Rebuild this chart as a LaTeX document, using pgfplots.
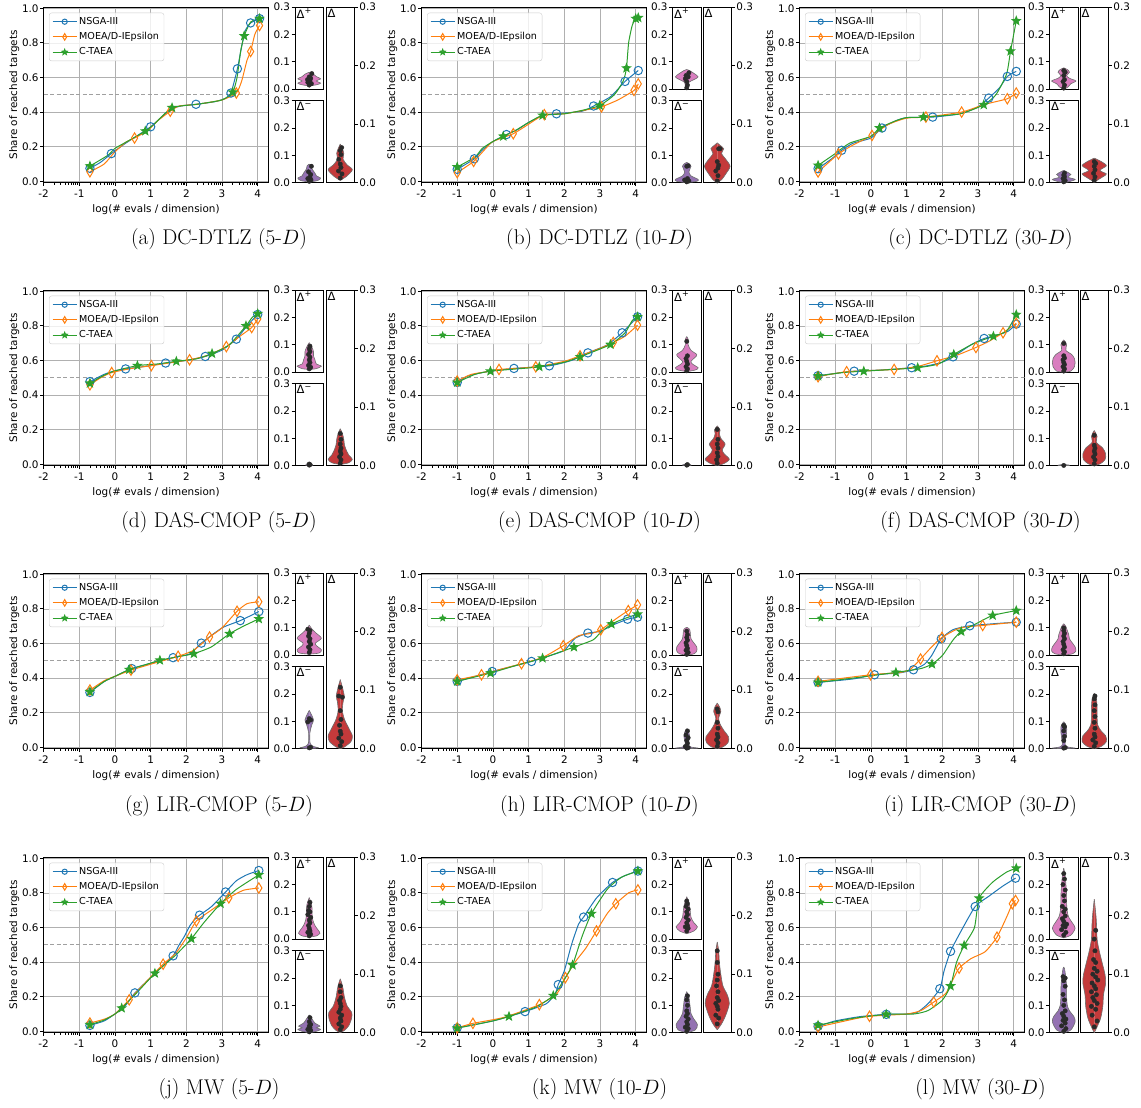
\documentclass[border=0pt]{standalone}
\usepackage{fontspec}
\usepackage{pgfplots}
\pgfplotsset{compat=1.18}
\newfontfamily\dejavu{DejaVu Sans}
\newcommand{\tf}{\dejavu\fontsize{10.4}{12.5}\selectfont}
\newcommand{\lf}{\dejavu\fontsize{9.6}{11.2}\selectfont}
\definecolor{cB}{HTML}{1F77B4}
\definecolor{cO}{HTML}{FF7F0E}
\definecolor{cG}{HTML}{2CA02C}
\definecolor{cP}{HTML}{D97EBF}
\definecolor{cV}{HTML}{9472B2}
\definecolor{cR}{HTML}{C43A3B}
\definecolor{gridc}{HTML}{B0B0B0}
\definecolor{dashc}{HTML}{A0A0A0}
\definecolor{legc}{HTML}{CCCCCC}
\definecolor{dotc}{HTML}{2A2A2A}
\definecolor{edgec}{HTML}{6E6E6E}

\pgfdeclareplotmark{thind}{%
  \pgfpathmoveto{\pgfqpoint{0pt}{\pgfplotmarksize}}%
  \pgfpathlineto{\pgfqpoint{0.6\pgfplotmarksize}{0pt}}%
  \pgfpathlineto{\pgfqpoint{0pt}{-\pgfplotmarksize}}%
  \pgfpathlineto{\pgfqpoint{-0.6\pgfplotmarksize}{0pt}}%
  \pgfpathclose\pgfusepathqstroke}
\pgfdeclareplotmark{fstar}{%
  \pgfpathmoveto{\pgfpointpolar{90}{\pgfplotmarksize}}%
  \pgfpathlineto{\pgfpointpolar{126}{0.42\pgfplotmarksize}}%
  \pgfpathlineto{\pgfpointpolar{162}{\pgfplotmarksize}}%
  \pgfpathlineto{\pgfpointpolar{198}{0.42\pgfplotmarksize}}%
  \pgfpathlineto{\pgfpointpolar{234}{\pgfplotmarksize}}%
  \pgfpathlineto{\pgfpointpolar{270}{0.42\pgfplotmarksize}}%
  \pgfpathlineto{\pgfpointpolar{306}{\pgfplotmarksize}}%
  \pgfpathlineto{\pgfpointpolar{342}{0.42\pgfplotmarksize}}%
  \pgfpathlineto{\pgfpointpolar{18}{\pgfplotmarksize}}%
  \pgfpathlineto{\pgfpointpolar{54}{0.42\pgfplotmarksize}}%
  \pgfpathclose\pgfusepathqfillstroke}

\tikzset{dlab/.style={anchor=north west, inner sep=1.5pt, font=\dejavu\fontsize{11.5}{13}\selectfont}}
\pgfplotsset{
 every axis/.append style={
  scale only axis,
  tick label style={font=\tf},
  label style={font=\tf},
  /pgf/number format/assume math mode=true,
  axis line style={line width=0.8pt},
  tick style={black, line width=0.8pt},
  minor tick style={black, line width=0.6pt},
  tick align=outside,
  major tick length=3.5pt,
  minor tick length=2pt,
  yticklabel style={inner xsep=1.2pt},
 },
 mainax/.style={
  width=225pt, height=175.5pt,
  xmin=-2, xmax=4.301, ymin=-0.008, ymax=1.006,
  xtick={-2,-1,0,1,2,3,4}, ytick={0,0.2,0.4,0.6,0.8,1.0},
  y tick label style={/pgf/number format/.cd,fixed,fixed zerofill,precision=1,/tikz/.cd},
  xtick pos=bottom, ytick pos=left,
  minor xtick={-1.699,-1.523,-1.398,-1.301,-1.222,-1.155,-1.097,-1.046,
   -0.699,-0.523,-0.398,-0.301,-0.222,-0.155,-0.097,-0.046,
   0.301,0.477,0.602,0.699,0.778,0.845,0.903,0.954,
   1.301,1.477,1.602,1.699,1.778,1.845,1.903,1.954,
   2.301,2.477,2.602,2.699,2.778,2.845,2.903,2.954,
   3.301,3.477,3.602,3.699,3.778,3.845,3.903,3.954},
  grid=major, major grid style={line width=0.6pt, color=gridc},
  xlabel={log(\# evals / dimension)},
  ylabel={Share of reached targets},
  ylabel style={yshift=-2pt},
  legend style={at={(0,1)}, anchor=north west, xshift=5.5pt, yshift=-5.5pt,
    font=\lf, nodes={font=\lf}, draw=legc, rounded corners=2.5pt, fill=white, fill opacity=0.8,
    text opacity=1, inner xsep=3pt, inner ysep=2.5pt, row sep=2.5pt},
  legend cell align=left,
  legend image code/.code={\draw[mark repeat=2,mark phase=2] plot coordinates {(0pt,0pt) (12pt,0pt) (24pt,0pt)};},
 },
 mB/.style={mark=o, mark size=4.2pt},
 mO/.style={mark=thind, mark size=5.2pt},
 mG/.style={mark=fstar, mark size=4.2pt, mark options={fill=cG}},
 lB/.style={mark=o, mark size=2.6pt},
 lO/.style={mark=thind, mark size=3.3pt},
 lG/.style={mark=fstar, mark size=2.8pt, mark options={fill=cG}},
 vax/.style={width=28.5pt, height=82pt, xmin=-1, xmax=1, ymin=0, ymax=0.3,
  xtick=\empty, ytick={0,0.1,0.2,0.3}, ytick pos=left,
  y tick label style={/pgf/number format/.cd,fixed,fixed zerofill,precision=1,/tikz/.cd},
  axis line style={line width=1pt}},
 vaxD/.style={vax, height=175.5pt, ytick pos=right, yticklabel pos=right},
 vedge/.style={edgec, line width=0.6pt, smooth, tension=0.5, forget plot},
}

\newcommand{\legs}{%
 \addlegendimage{cB, line width=1pt, lB}\addlegendentry{\lf NSGA-III}
 \addlegendimage{cO, line width=1pt, lO}\addlegendentry{\lf MOEA/D-IEpsilon}
 \addlegendimage{cG, line width=1pt, lG}\addlegendentry{\lf C-TAEA}}
\newcommand{\half}{\addplot[dashc, line width=1pt, dash pattern=on 4pt off 2.5pt, forget plot] coordinates {(-2,0.5) (4.301,0.5)};}
\newcommand{\ser}[4]{%
 \addplot[#1, line width=1pt, smooth, tension=0.35, forget plot] coordinates {#3};
 \addplot[#1, line width=1pt, only marks, #2, forget plot] coordinates {#4};}
\newcommand{\violin}[2]{%
 \addplot[fill=#1, draw=none, smooth, tension=0.5, forget plot] coordinates {#2};
 \addplot[fill=#1, draw=none, smooth, tension=0.5, forget plot, x filter/.code={\pgfmathparse{-1*\pgfmathresult}}] coordinates {#2};
 \addplot[vedge] coordinates {#2};
 \addplot[vedge, x filter/.code={\pgfmathparse{-1*\pgfmathresult}}] coordinates {#2};}
\newcommand{\dts}[1]{\addplot[only marks, mark=*, mark size=2.2pt, color=dotc, mark options={fill=dotc, draw=dotc}, forget plot] coordinates {#1};}
\newcommand{\vpanel}[9]{%
 \begin{axis}[vax, at={(#1pt,#3pt+93.5pt)}]
  \violin{cP}{#4}\dts{#5}
  \node[dlab] at (rel axis cs:0,1) {Δ\textsuperscript{+}};
 \end{axis}
 \begin{axis}[vax, at={(#1pt,#3pt)}]
  \violin{cV}{#6}\dts{#7}
  \node[dlab] at (rel axis cs:0,1) {Δ\textsuperscript{−}};
 \end{axis}
 \begin{axis}[vaxD, at={(#2pt,#3pt)}]
  \violin{cR}{#8}\dts{#9}
  \node[dlab] at (rel axis cs:0,1) {Δ};
 \end{axis}}
\newcommand{\pcap}[3]{\node[anchor=base, font=\fontsize{21.3}{24}\selectfont] at (#1pt,#2pt) {#3};}

\begin{document}
\begin{tikzpicture}
\useasboundingbox (0,0) rectangle (1141pt,1108pt);

% ================= (a) DC-DTLZ 5-D
\begin{axis}[mainax, at={(43.5pt,925.3pt)}]
\half\legs
\ser{cB}{mB}{(-0.7,0.075) (-0.4,0.11) (-0.1,0.16) (0.3,0.22) (0.6,0.26) (1.0,0.315) (1.3,0.37) (1.6,0.42) (1.9,0.437) (2.27,0.445) (2.8,0.46) (3.1,0.48) (3.25,0.51) (3.43,0.65) (3.55,0.78) (3.65,0.87) (3.8,0.915) (4.05,0.94)}{(-0.7,0.075) (-0.1,0.16) (1.0,0.315) (2.27,0.445) (3.25,0.51) (3.43,0.65) (3.8,0.915) (4.05,0.94)}
\ser{cO}{mO}{(-0.7,0.055) (-0.3,0.1) (0.0,0.17) (0.3,0.225) (0.55,0.25) (0.9,0.29) (1.2,0.35) (1.55,0.405) (1.8,0.435) (2.3,0.445) (3.0,0.47) (3.4,0.51) (3.55,0.58) (3.7,0.7) (3.8,0.75) (3.92,0.85) (4.05,0.9)}{(-0.7,0.055) (0.55,0.25) (1.55,0.405) (3.4,0.51) (3.8,0.75) (4.05,0.9)}
\ser{cG}{mG}{(-0.7,0.088) (-0.2,0.15) (0.0,0.19) (0.3,0.225) (0.85,0.29) (1.1,0.33) (1.6,0.425) (2.3,0.445) (3.0,0.47) (3.3,0.515) (3.42,0.6) (3.52,0.75) (3.62,0.84) (3.8,0.92) (4.05,0.94)}{(-0.7,0.088) (0.85,0.29) (1.6,0.425) (3.3,0.515) (3.62,0.84) (4.05,0.94)}
\end{axis}
\vpanel{295}{326}{925.3}
{(0,0.012) (0.5,0.016) (0.8,0.022) (0.5,0.03) (0.8,0.038) (0.5,0.046) (0.3,0.055) (0,0.062)}
{(0,0.015) (0.15,0.02) (-0.1,0.025) (0.05,0.03) (-0.12,0.035) (0.1,0.04) (0,0.045) (0.18,0.057)}
{(0,0.002) (0.6,0.008) (0.8,0.017) (0.5,0.025) (0.4,0.035) (0.2,0.05) (0.15,0.062) (0,0.068)}
{(0,0.005) (0.12,0.01) (-0.1,0.015) (0.05,0.02) (0.1,0.03) (-0.05,0.04) (0.15,0.06)}
{(0,0.004) (0.4,0.01) (0.85,0.022) (0.5,0.03) (0.2,0.04) (0.25,0.05) (0.15,0.058) (0,0.066)}
{(0,0.008) (0.12,0.015) (-0.12,0.02) (0.05,0.026) (0,0.032) (-0.1,0.04) (0.05,0.048) (0,0.055) (0.1,0.06)}
\pcap{219}{863.5}{(a) DC-DTLZ (5-$D$)}

% ================= (b) DC-DTLZ 10-D
\begin{axis}[mainax, at={(421.5pt,925.3pt)}]
\half\legs
\ser{cB}{mB}{(-1,0.069) (-0.52,0.13) (-0.3,0.18) (0,0.23) (0.38,0.27) (0.7,0.3) (1.0,0.34) (1.4,0.38) (1.78,0.39) (2.5,0.405) (2.82,0.435) (3.3,0.49) (3.7,0.577) (4.07,0.64)}{(-1,0.069) (-0.52,0.13) (0.38,0.27) (1.78,0.39) (2.82,0.435) (3.7,0.577) (4.07,0.64)}
\ser{cO}{mO}{(-1,0.05) (-0.54,0.115) (-0.2,0.19) (0,0.23) (0.57,0.275) (1.0,0.33) (1.44,0.385) (2,0.39) (2.8,0.42) (3.04,0.43) (3.5,0.47) (3.95,0.525) (4.07,0.563)}{(-1,0.05) (-0.54,0.115) (0.57,0.275) (1.44,0.385) (3.04,0.43) (3.95,0.525) (4.07,0.563)}
\ser{cG}{mG}{(-1,0.083) (-0.5,0.14) (-0.3,0.19) (0,0.23) (0.29,0.26) (0.6,0.29) (1.0,0.34) (1.39,0.381) (2,0.39) (2.5,0.41) (2.99,0.438) (3.4,0.5) (3.65,0.58) (3.74,0.654) (3.8,0.8) (3.9,0.9) (4.0,0.94) (4.07,0.945)}{(-1,0.083) (0.29,0.26) (1.39,0.381) (2.99,0.438) (3.74,0.654) (4.0,0.94) (4.07,0.945)}
\end{axis}
\vpanel{672.5}{703}{925.3}
{(0,0.003) (0.1,0.01) (0.15,0.025) (0.5,0.035) (0.8,0.045) (0.5,0.058) (0.2,0.068) (0,0.072)}
{(0,0.005) (0.05,0.015) (0,0.028) (-0.1,0.038) (0.1,0.045) (-0.05,0.05) (0.15,0.06)}
{(0,0.0) (0.7,0.005) (0.8,0.012) (0.3,0.025) (0.15,0.04) (0.3,0.06) (0.15,0.07) (0,0.074)}
{(0,0.003) (0.15,0.006) (-0.15,0.01) (0.05,0.015) (0,0.06) (0.1,0.062)}
{(0,0.0) (0.3,0.005) (0.6,0.015) (0.9,0.028) (0.6,0.04) (0.3,0.05) (0.45,0.058) (0.2,0.064) (0,0.068)}
{(0,0.003) (0.05,0.012) (-0.1,0.02) (0.05,0.025) (0.1,0.03) (0,0.036) (0.1,0.058) (0.2,0.058)}
\pcap{599.5}{863.5}{(b) DC-DTLZ (10-$D$)}

% ================= (c) DC-DTLZ 30-D
\begin{axis}[mainax, at={(799.5pt,925.3pt)}]
\half\legs
\ser{cB}{mB}{(-1.48,0.073) (-1.1,0.13) (-0.82,0.179) (-0.5,0.22) (0,0.25) (0.31,0.308) (0.7,0.35) (1.0,0.368) (1.73,0.371) (2.5,0.39) (3.0,0.43) (3.3,0.481) (3.6,0.54) (3.82,0.606) (4.07,0.635)}{(-1.48,0.073) (-0.82,0.179) (0.31,0.308) (1.73,0.371) (3.3,0.481) (3.82,0.606) (4.07,0.635)}
\ser{cO}{mO}{(-1.48,0.054) (-0.91,0.158) (-0.5,0.21) (0.03,0.265) (0.5,0.33) (1,0.365) (1.54,0.371) (2.54,0.4) (3.2,0.445) (3.82,0.477) (4.07,0.51)}{(-1.48,0.054) (-0.91,0.158) (0.03,0.265) (1.54,0.371) (2.54,0.4) (3.82,0.477) (4.07,0.51)}
\ser{cG}{mG}{(-1.48,0.092) (-1,0.16) (-0.6,0.22) (0,0.26) (0.24,0.308) (0.7,0.35) (1.0,0.368) (1.47,0.371) (2.5,0.39) (3.16,0.442) (3.5,0.5) (3.8,0.62) (3.91,0.752) (4.07,0.927)}{(-1.48,0.092) (0.24,0.308) (1.47,0.371) (3.16,0.442) (3.91,0.752) (4.07,0.927)}
\end{axis}
\vpanel{1049.5}{1080}{925.3}
{(0,0.0) (0.3,0.008) (0.5,0.02) (0.85,0.03) (0.4,0.04) (0.2,0.05) (0.4,0.062) (0.25,0.072) (0,0.078)}
{(0,0.004) (0.05,0.015) (-0.05,0.028) (0.05,0.035) (0,0.05) (0.1,0.062) (0,0.068)}
{(0,0.0) (0.4,0.004) (0.8,0.012) (0.3,0.02) (0.5,0.03) (0.2,0.04) (0,0.045)}
{(0,0.003) (0.1,0.008) (-0.05,0.015) (0.05,0.022) (0,0.028) (0.05,0.035)}
{(0,0.0) (0.2,0.004) (0.6,0.01) (0.85,0.015) (0.4,0.021) (0.85,0.029) (0.5,0.036) (0,0.042)}
{(0,0.004) (0.05,0.01) (-0.05,0.016) (0.05,0.022) (0,0.028) (0.1,0.033) (0,0.036)}
\pcap{980.5}{863.5}{(c) DC-DTLZ (30-$D$)}

% ================= (d) DAS-CMOP 5-D
\begin{axis}[mainax, at={(43.5pt,642.3pt)}]
\half\legs
\ser{cB}{mB}{(-0.7,0.478) (-0.3,0.52) (0,0.54) (0.3,0.551) (1,0.57) (1.42,0.585) (2,0.6) (2.53,0.623) (3.0,0.66) (3.4,0.723) (3.7,0.8) (4.0,0.866)}{(-0.7,0.478) (0.3,0.551) (1.42,0.585) (2.53,0.623) (3.4,0.723) (4.0,0.866)}
\ser{cO}{mO}{(-0.7,0.459) (-0.4,0.5) (-0.09,0.53) (0.5,0.555) (1.02,0.57) (2.09,0.604) (2.6,0.63) (3.12,0.68) (3.5,0.74) (3.83,0.79) (4.0,0.84)}{(-0.7,0.459) (-0.09,0.53) (1.02,0.57) (2.09,0.604) (3.12,0.68) (3.83,0.79) (4.0,0.84)}
\ser{cG}{mG}{(-0.7,0.468) (-0.3,0.515) (0,0.54) (0.63,0.57) (1.2,0.58) (1.72,0.595) (2.3,0.61) (2.72,0.64) (3.2,0.69) (3.67,0.8) (3.85,0.85) (4.0,0.87)}{(-0.7,0.468) (0.63,0.57) (1.72,0.595) (2.72,0.64) (3.67,0.8) (4.0,0.87)}
\end{axis}
\vpanel{295}{326}{642.3}
{(0,0.01) (0.5,0.013) (0.85,0.022) (0.5,0.03) (0.4,0.045) (0.3,0.06) (0.3,0.075) (0.2,0.09) (0.1,0.1) (0,0.108)}
{(0,0.012) (0.1,0.018) (-0.05,0.025) (0.05,0.035) (0,0.045) (0.05,0.055) (-0.05,0.065) (0.05,0.075) (0,0.085) (0.05,0.095)}
{(0,0.0) (0.25,0.002) (0.2,0.006) (0,0.009)}
{(0,0.002) (0.05,0.004) (0,0.006)}
{(0,0.002) (0.6,0.005) (0.85,0.011) (0.6,0.018) (0.45,0.025) (0.3,0.035) (0.25,0.045) (0.15,0.055) (0,0.063)}
{(0,0.004) (0.05,0.01) (-0.05,0.015) (0.05,0.02) (0,0.025) (0.05,0.03) (0,0.037) (0.05,0.045) (0,0.055)}
\pcap{219}{580.2}{(d) DAS-CMOP (5-$D$)}

% ================= (e) DAS-CMOP 10-D
\begin{axis}[mainax, at={(421.5pt,642.3pt)}]
\half\legs
\ser{cB}{mB}{(-1,0.473) (-0.7,0.51) (-0.3,0.53) (0,0.54) (0.59,0.554) (1.58,0.569) (2.2,0.6) (2.66,0.644) (3.2,0.69) (3.62,0.76) (3.9,0.82) (4.05,0.852)}{(-1,0.473) (0.59,0.554) (1.58,0.569) (2.66,0.644) (3.62,0.76) (4.05,0.852)}
\ser{cO}{mO}{(-1,0.481) (-0.6,0.52) (0,0.54) (0.17,0.548) (1.2,0.563) (2,0.595) (2.44,0.627) (3.0,0.67) (3.37,0.704) (3.7,0.74) (4.05,0.804)}{(-1,0.481) (0.17,0.548) (1.2,0.563) (2.44,0.627) (3.37,0.704) (4.05,0.804)}
\ser{cG}{mG}{(-1,0.473) (-0.5,0.52) (-0.07,0.538) (0.6,0.55) (1.3,0.563) (2,0.59) (2.44,0.621) (3.29,0.692) (3.7,0.76) (3.9,0.83) (4.05,0.852)}{(-1,0.473) (-0.07,0.538) (1.3,0.563) (2.44,0.621) (3.29,0.692) (4.05,0.852)}
\end{axis}
\vpanel{672.5}{703}{642.3}
{(0,0.002) (0.6,0.008) (0.8,0.016) (0.4,0.03) (0.3,0.04) (0.6,0.055) (0.7,0.065) (0.3,0.08) (0.1,0.1) (0.1,0.12) (0,0.13)}
{(0,0.005) (0.05,0.012) (-0.05,0.02) (0.05,0.03) (0,0.04) (-0.05,0.05) (0.05,0.06) (0,0.113)}
{(0,0.0) (0.3,0.002) (0.2,0.005) (0,0.007)}
{(0,0.002) (0.05,0.004)}
{(0,0.0) (0.5,0.004) (0.85,0.011) (0.5,0.02) (0.35,0.027) (0.55,0.037) (0.25,0.047) (0.15,0.055) (0.2,0.061) (0,0.068)}
{(0,0.004) (-0.05,0.01) (0.05,0.016) (0,0.022) (0.05,0.03) (0,0.037) (0.05,0.045) (0,0.062)}
\pcap{599.5}{580.2}{(e) DAS-CMOP (10-$D$)}

% ================= (f) DAS-CMOP 30-D
\begin{axis}[mainax, at={(799.5pt,642.3pt)}]
\half\legs
\ser{cB}{mB}{(-1.48,0.512) (-1,0.525) (-0.47,0.538) (0.3,0.545) (1.14,0.558) (1.6,0.57) (2,0.59) (2.3,0.621) (2.8,0.69) (3.17,0.727) (3.6,0.75) (3.85,0.77) (4.07,0.81)}{(-1.48,0.512) (-0.47,0.538) (1.14,0.558) (2.3,0.621) (3.17,0.727) (4.07,0.81)}
\ser{cO}{mO}{(-1.48,0.506) (-0.68,0.535) (0.65,0.548) (1.3,0.565) (1.85,0.598) (2.4,0.63) (2.94,0.675) (3.3,0.71) (3.7,0.76) (4.07,0.815)}{(-1.48,0.506) (-0.68,0.535) (0.65,0.548) (1.85,0.598) (2.94,0.675) (3.7,0.76) (4.07,0.815)}
\ser{cG}{mG}{(-1.48,0.51) (-0.8,0.53) (-0.2,0.538) (0.6,0.548) (1.31,0.558) (1.9,0.58) (2.32,0.635) (2.9,0.7) (3.43,0.74) (3.8,0.77) (4.07,0.865)}{(-1.48,0.51) (-0.2,0.538) (1.31,0.558) (2.32,0.635) (3.43,0.74) (4.07,0.865)}
\end{axis}
\vpanel{1049.5}{1080}{642.3}
{(0,0.0) (0.5,0.004) (0.75,0.02) (0.8,0.035) (0.75,0.05) (0.55,0.065) (0.15,0.08) (0.2,0.1) (0.1,0.112) (0,0.118)}
{(0,0.004) (0.05,0.012) (-0.05,0.02) (0.05,0.028) (0,0.035) (-0.05,0.045) (0.05,0.052) (0,0.06) (0,0.105)}
{(0,0.0) (0.4,0.001) (0.3,0.003) (0,0.004)}
{(0,0.001)}
{(0,0.0) (0.4,0.003) (0.75,0.01) (0.8,0.02) (0.6,0.03) (0.15,0.04) (0.2,0.05) (0.1,0.056) (0,0.06)}
{(0,0.003) (0.05,0.01) (-0.05,0.015) (0.05,0.02) (0,0.025) (0.05,0.03) (0,0.035) (0,0.052)}
\pcap{980.5}{580.2}{(f) DAS-CMOP (30-$D$)}

% ================= (g) LIR-CMOP 5-D
\begin{axis}[mainax, at={(43.5pt,359.3pt)}]
\half\legs
\ser{cB}{mB}{(-0.7,0.317) (-0.3,0.38) (0,0.41) (0.47,0.455) (1.0,0.485) (1.63,0.518) (2.1,0.54) (2.42,0.602) (3.0,0.69) (3.51,0.732) (4.03,0.784)}{(-0.7,0.317) (0.47,0.455) (1.63,0.518) (2.42,0.602) (3.51,0.732) (4.03,0.784)}
\ser{cO}{mO}{(-0.7,0.331) (-0.3,0.385) (0,0.41) (0.45,0.446) (1.0,0.48) (1.77,0.526) (2.2,0.56) (2.65,0.637) (3.0,0.69) (3.42,0.786) (3.7,0.83) (4.03,0.841)}{(-0.7,0.331) (0.45,0.446) (1.77,0.526) (2.65,0.637) (3.42,0.786) (4.03,0.841)}
\ser{cG}{mG}{(-0.7,0.321) (-0.3,0.38) (0,0.41) (0.4,0.449) (0.9,0.48) (1.26,0.503) (1.8,0.525) (2.21,0.541) (2.7,0.58) (3.21,0.656) (3.6,0.7) (4.03,0.742)}{(-0.7,0.321) (0.4,0.449) (1.26,0.503) (2.21,0.541) (3.21,0.656) (4.03,0.742)}
\end{axis}
\vpanel{295}{326}{359.3}
{(0,0.004) (0.7,0.008) (0.85,0.02) (0.5,0.035) (0.45,0.045) (0.85,0.062) (0.5,0.08) (0.2,0.095) (0,0.11)}
{(0,0.01) (0.05,0.02) (-0.05,0.03) (0.1,0.04) (0,0.05) (0.05,0.06) (-0.05,0.07) (0,0.08) (0.05,0.09) (-0.1,0.095)}
{(0,0.0) (0.65,0.003) (0.3,0.008) (0.06,0.02) (0.05,0.06) (0.2,0.09) (0.3,0.105) (0.15,0.125) (0,0.14)}
{(0,0.003) (0.1,0.005) (-0.1,0.098) (0.1,0.105) (0,0.11)}
{(0,0.0) (0.3,0.003) (0.75,0.012) (0.85,0.022) (0.6,0.035) (0.3,0.05) (0.15,0.065) (0.2,0.08) (0.28,0.09) (0.15,0.105) (0,0.118)}
{(0,0.005) (0.1,0.012) (-0.1,0.018) (0.05,0.025) (0,0.03) (-0.05,0.04) (0.05,0.05) (0,0.065) (0.15,0.088) (-0.1,0.09) (0,0.105)}
\pcap{219}{296.9}{(g) LIR-CMOP (5-$D$)}

% ================= (h) LIR-CMOP 10-D
\begin{axis}[mainax, at={(421.5pt,359.3pt)}]
\half\legs
\ser{cB}{mB}{(-1,0.381) (-0.5,0.41) (-0.02,0.438) (0.5,0.465) (1.08,0.496) (1.6,0.53) (2.0,0.56) (2.3,0.63) (2.66,0.66) (3.0,0.67) (3.4,0.71) (3.77,0.74) (4.05,0.752)}{(-1,0.381) (-0.02,0.438) (1.08,0.496) (2.66,0.66) (3.77,0.74) (4.05,0.752)}
\ser{cO}{mO}{(-1,0.39) (-0.32,0.419) (0.2,0.45) (0.8,0.483) (1.4,0.52) (1.97,0.587) (2.4,0.645) (2.8,0.66) (3.02,0.679) (3.5,0.75) (3.79,0.79) (4.05,0.823)}{(-1,0.39) (-0.32,0.419) (0.8,0.483) (1.97,0.587) (3.02,0.679) (3.79,0.79) (4.05,0.823)}
\ser{cG}{mG}{(-1,0.381) (-0.07,0.429) (0.6,0.47) (1.39,0.515) (1.8,0.545) (2.27,0.579) (2.8,0.62) (3.0,0.66) (3.32,0.712) (3.7,0.745) (4.05,0.769)}{(-1,0.381) (-0.07,0.429) (1.39,0.515) (2.27,0.579) (3.32,0.712) (4.05,0.769)}
\end{axis}
\vpanel{672.5}{703}{359.3}
{(0,0.0) (0.5,0.005) (0.7,0.015) (0.7,0.03) (0.5,0.045) (0.3,0.06) (0.25,0.08) (0.2,0.095) (0,0.102)}
{(0,0.003) (0.1,0.01) (-0.05,0.018) (0.05,0.025) (0,0.035) (-0.05,0.045) (0.05,0.055) (0,0.065) (0.05,0.075) (0,0.088)}
{(0,0.0) (0.8,0.002) (0.3,0.006) (0.1,0.015) (0.15,0.03) (0.2,0.045) (0.15,0.06) (0,0.073)}
{(0,0.002) (0.1,0.004) (-0.1,0.008) (0.05,0.02) (0,0.03) (0.1,0.04) (-0.05,0.05) (0.05,0.065)}
{(0,0.0) (0.4,0.003) (0.75,0.01) (0.8,0.02) (0.5,0.03) (0.2,0.042) (0.1,0.052) (0.25,0.064) (0.15,0.072) (0,0.078)}
{(0,0.004) (0.05,0.01) (-0.05,0.015) (0.05,0.02) (0,0.025) (0.05,0.035) (0,0.045) (0.05,0.063) (0,0.068)}
\pcap{599.5}{296.9}{(h) LIR-CMOP (10-$D$)}

% ================= (i) LIR-CMOP 30-D
\begin{axis}[mainax, at={(799.5pt,359.3pt)}]
\half\legs
\ser{cB}{mB}{(-1.48,0.375) (-0.5,0.395) (0.1,0.419) (0.8,0.43) (1.19,0.448) (1.5,0.48) (1.7,0.53) (1.97,0.627) (2.3,0.68) (2.77,0.702) (3.5,0.715) (4.07,0.723)}{(-1.48,0.375) (0.1,0.419) (1.19,0.448) (1.97,0.627) (2.77,0.702) (4.07,0.723)}
\ser{cO}{mO}{(-1.48,0.381) (-0.01,0.419) (0.8,0.432) (1.1,0.45) (1.39,0.51) (1.7,0.58) (1.99,0.635) (2.5,0.69) (3.13,0.704) (4.07,0.723)}{(-1.48,0.381) (-0.01,0.419) (1.39,0.51) (1.99,0.635) (3.13,0.704) (4.07,0.723)}
\ser{cG}{mG}{(-1.48,0.375) (-0.3,0.405) (0.7,0.433) (1.4,0.455) (1.71,0.481) (2.0,0.53) (2.3,0.62) (2.53,0.669) (3.0,0.72) (3.41,0.762) (4.07,0.79)}{(-1.48,0.375) (0.7,0.433) (1.71,0.481) (2.53,0.669) (3.41,0.762) (4.07,0.79)}
\end{axis}
\vpanel{1049.5}{1080}{359.3}
{(0,0.0) (0.6,0.005) (0.85,0.015) (0.8,0.03) (0.6,0.045) (0.4,0.06) (0.35,0.075) (0.25,0.09) (0.15,0.105) (0,0.115)}
{(0,0.005) (0.05,0.012) (-0.05,0.02) (0.05,0.03) (0,0.04) (-0.05,0.05) (0.05,0.06) (0,0.07) (0.05,0.08) (0,0.09) (0,0.1)}
{(0,0.0) (0.8,0.002) (0.3,0.006) (0.1,0.015) (0.15,0.04) (0.2,0.06) (0.2,0.08) (0.1,0.092) (0,0.098)}
{(0,0.002) (0.1,0.004) (0,0.03) (0.05,0.045) (0,0.065) (0.05,0.08) (0,0.085)}
{(0,0.0) (0.5,0.004) (0.85,0.012) (0.8,0.022) (0.5,0.03) (0.25,0.04) (0.2,0.055) (0.2,0.07) (0.15,0.085) (0,0.095)}
{(0,0.004) (0.1,0.01) (-0.1,0.015) (0.05,0.02) (0,0.025) (0.05,0.035) (0,0.045) (0.05,0.055) (0,0.065) (0.05,0.075) (0,0.085) (0.05,0.09)}
\pcap{980.5}{296.9}{(i) LIR-CMOP (30-$D$)}

% ================= (j) MW 5-D
\begin{axis}[mainax, at={(43.5pt,75.3pt)}]
\half\legs
\ser{cB}{mB}{(-0.7,0.034) (-0.3,0.06) (0,0.1) (0.3,0.15) (0.56,0.222) (1.0,0.31) (1.3,0.37) (1.63,0.436) (1.8,0.5) (1.95,0.55) (2.1,0.61) (2.25,0.65) (2.37,0.671) (2.7,0.72) (3.1,0.805) (3.4,0.87) (3.7,0.905) (4.03,0.929)}{(-0.7,0.034) (0.56,0.222) (1.63,0.436) (2.37,0.671) (3.1,0.805) (4.03,0.929)}
\ser{cO}{mO}{(-0.7,0.048) (-0.3,0.07) (0,0.1) (0.4,0.182) (0.8,0.27) (1.35,0.388) (1.7,0.45) (2.0,0.54) (2.28,0.637) (2.7,0.7) (3.19,0.771) (3.6,0.815) (4.03,0.828)}{(-0.7,0.048) (0.4,0.182) (1.35,0.388) (2.28,0.637) (3.19,0.771) (4.03,0.828)}
\ser{cG}{mG}{(-0.7,0.038) (-0.3,0.065) (0,0.1) (0.19,0.134) (0.6,0.22) (1.12,0.335) (1.7,0.44) (2.14,0.535) (2.5,0.63) (2.96,0.738) (3.4,0.82) (4.03,0.904)}{(-0.7,0.038) (0.19,0.134) (1.12,0.335) (2.14,0.535) (2.96,0.738) (4.03,0.904)}
\end{axis}
\vpanel{295}{326}{75.3}
{(0,0.008) (0.5,0.012) (0.75,0.022) (0.6,0.035) (0.4,0.05) (0.25,0.07) (0.2,0.09) (0.2,0.11) (0.15,0.13) (0,0.152)}
{(0,0.012) (0.1,0.018) (-0.1,0.025) (0.05,0.03) (0,0.04) (-0.05,0.05) (0.05,0.06) (0,0.07) (0.1,0.08) (-0.1,0.09) (0.05,0.1) (-0.05,0.105) (0,0.12) (0.05,0.135)}
{(0,0.0) (0.5,0.005) (0.8,0.012) (0.5,0.018) (0.75,0.024) (0.4,0.035) (0.2,0.05) (0,0.065)}
{(0,0.003) (0.1,0.008) (-0.1,0.012) (0.05,0.018) (0,0.024) (0.1,0.03) (0,0.04) (0.05,0.055)}
{(0,0.0) (0.3,0.004) (0.6,0.012) (0.8,0.025) (0.8,0.035) (0.5,0.045) (0.3,0.06) (0.2,0.075) (0.1,0.085) (0,0.092)}
{(0,0.005) (0.1,0.01) (-0.1,0.015) (0.05,0.02) (0,0.025) (0.1,0.03) (-0.1,0.035) (0,0.04) (0.05,0.045) (0,0.05) (-0.05,0.055) (0.05,0.06) (0,0.07) (0,0.08)}
\pcap{219}{13.6}{(j) MW (5-$D$)}

% ================= (k) MW 10-D
\begin{axis}[mainax, at={(421.5pt,75.3pt)}]
\half\legs
\ser{cB}{mB}{(-1,0.02) (0,0.06) (0.9,0.114) (1.5,0.16) (1.75,0.22) (1.83,0.27) (2.0,0.35) (2.2,0.5) (2.4,0.62) (2.54,0.66) (2.9,0.77) (3.35,0.86) (3.7,0.9) (4.06,0.926)}{(-1,0.02) (0.9,0.114) (1.83,0.27) (2.54,0.66) (3.35,0.86) (4.06,0.926)}
\ser{cO}{mO}{(-1,0.02) (-0.56,0.046) (0.3,0.08) (1.3,0.154) (1.8,0.22) (2.03,0.31) (2.3,0.4) (2.6,0.48) (2.9,0.58) (3.2,0.68) (3.44,0.737) (3.8,0.8) (4.06,0.817)}{(-1,0.02) (-0.56,0.046) (1.3,0.154) (2.03,0.31) (2.9,0.58) (3.44,0.737) (4.06,0.817)}
\ser{cG}{mG}{(-1,0.018) (0,0.06) (0.45,0.086) (1.2,0.14) (1.69,0.206) (2.0,0.3) (2.23,0.383) (2.5,0.55) (2.76,0.68) (3.2,0.82) (3.6,0.89) (4.06,0.926)}{(-1,0.018) (0.45,0.086) (1.69,0.206) (2.23,0.383) (2.76,0.68) (4.06,0.926)}
\end{axis}
\vpanel{672.5}{703}{75.3}
{(0,0.02) (0.5,0.03) (0.75,0.045) (0.5,0.06) (0.3,0.08) (0.25,0.1) (0.2,0.12) (0.1,0.14) (0,0.155)}
{(0,0.03) (0.1,0.04) (-0.1,0.045) (0.05,0.05) (0,0.06) (0.1,0.07) (-0.05,0.08) (0.05,0.09) (0,0.1) (0.1,0.11) (-0.05,0.12) (0.05,0.13) (0,0.14)}
{(0,0.0) (0.6,0.01) (0.75,0.03) (0.5,0.05) (0.3,0.07) (0.25,0.09) (0.2,0.11) (0.15,0.13) (0,0.15)}
{(0,0.005) (0.1,0.015) (-0.1,0.02) (0.05,0.03) (0,0.04) (0.1,0.05) (-0.05,0.06) (0.05,0.07) (0,0.08) (0.05,0.1) (0,0.12) (0.05,0.135)}
{(0,0.005) (0.3,0.015) (0.6,0.03) (0.85,0.05) (0.7,0.065) (0.4,0.08) (0.25,0.1) (0.15,0.12) (0.1,0.14) (0,0.155)}
{(0,0.015) (0.1,0.025) (-0.1,0.03) (0.05,0.04) (0,0.045) (-0.1,0.05) (0.1,0.055) (0,0.06) (0.05,0.07) (-0.05,0.08) (0,0.09) (0.05,0.1) (0,0.12) (0,0.14)}
\pcap{599.5}{13.6}{(k) MW (10-$D$)}

% ================= (l) MW 30-D
\begin{axis}[mainax, at={(799.5pt,75.3pt)}]
\half\legs
\ser{cB}{mB}{(-1.48,0.029) (-1,0.06) (-0.3,0.085) (0.43,0.098) (1.0,0.1) (1.3,0.11) (1.6,0.16) (1.93,0.246) (2.05,0.35) (2.23,0.462) (2.5,0.57) (2.92,0.721) (3.3,0.78) (3.7,0.84) (4.05,0.885)}{(-1.48,0.029) (0.43,0.098) (1.93,0.246) (2.23,0.462) (2.92,0.721) (4.05,0.885)}
\ser{cO}{mO}{(-1.48,0.025) (-0.5,0.07) (-0.04,0.087) (1.0,0.1) (1.4,0.12) (1.76,0.169) (2.1,0.22) (2.3,0.3) (2.47,0.365) (2.8,0.42) (3.2,0.46) (3.53,0.544) (3.8,0.66) (3.96,0.737) (4.05,0.756)}{(-1.48,0.025) (-0.04,0.087) (1.76,0.169) (2.47,0.365) (3.53,0.544) (3.96,0.737) (4.05,0.756)}
\ser{cG}{mG}{(-1.48,0.035) (-0.5,0.075) (0.43,0.098) (1.2,0.1) (1.6,0.12) (2.0,0.18) (2.23,0.262) (2.4,0.4) (2.61,0.496) (2.9,0.6) (3.03,0.769) (3.4,0.86) (3.8,0.92) (4.07,0.942)}{(-1.48,0.035) (0.43,0.098) (2.23,0.262) (2.61,0.496) (3.03,0.769) (4.07,0.942)}
\end{axis}
\vpanel{1049.5}{1080}{75.3}
{(0,0.005) (0.5,0.015) (0.8,0.04) (0.6,0.06) (0.35,0.08) (0.25,0.1) (0.2,0.13) (0.2,0.16) (0.15,0.2) (0.1,0.23) (0,0.26)}
{(0,0.015) (0.15,0.025) (-0.15,0.035) (0.1,0.045) (-0.05,0.05) (0.2,0.055) (0,0.065) (-0.1,0.075) (0.1,0.085) (0,0.1) (0.1,0.11) (-0.1,0.12) (0.05,0.14) (0,0.16) (0.1,0.18) (-0.05,0.2) (0.05,0.22) (0,0.24)}
{(0,0.0) (0.5,0.01) (0.8,0.04) (0.7,0.06) (0.4,0.08) (0.25,0.1) (0.2,0.13) (0.2,0.16) (0.15,0.2) (0.05,0.235) (0,0.24)}
{(0,0.005) (0.15,0.015) (-0.15,0.025) (0.1,0.035) (-0.05,0.045) (0.15,0.05) (0,0.06) (-0.1,0.07) (0.1,0.08) (0,0.1) (0.05,0.12) (-0.05,0.14) (0.1,0.17) (0,0.19) (0.1,0.2) (-0.05,0.205)}
{(0,0.0) (0.2,0.01) (0.45,0.025) (0.6,0.045) (0.65,0.065) (0.8,0.085) (0.75,0.1) (0.55,0.12) (0.35,0.14) (0.2,0.16) (0.15,0.19) (0.08,0.21) (0,0.228)}
{(0,0.01) (0.2,0.02) (-0.15,0.03) (0.1,0.04) (-0.2,0.045) (0.2,0.05) (0,0.055) (-0.1,0.06) (0.15,0.065) (-0.2,0.07) (0.1,0.075) (0,0.08) (-0.15,0.085) (0.25,0.09) (0.1,0.095) (-0.1,0.1) (0.2,0.105) (0,0.11) (0.1,0.12) (-0.05,0.125) (0.05,0.14) (0,0.16) (0.1,0.175)}
\pcap{980.5}{13.6}{(l) MW (30-$D$)}

\end{tikzpicture}
\end{document}
